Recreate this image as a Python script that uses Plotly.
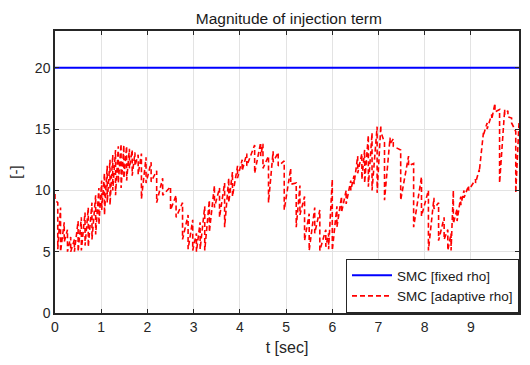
import plotly.graph_objects as go

# ---- data ----
t_fixed = [0.0, 10.04]
rho_fixed = [20.0, 20.0]

# adaptive rho: sawtooth teeth (time, value before drop, value after drop)
tooth_t = [0.00, 0.06, 0.12, 0.20, 0.27, 0.34, 0.42, 0.50, 0.57, 0.65, 0.72, 0.80, 0.88,
           0.95, 1.01, 1.07, 1.13, 1.19, 1.25, 1.31, 1.37, 1.43, 1.49, 1.55, 1.61, 1.67,
           1.73, 1.80, 1.87, 1.97, 2.08, 2.20, 2.33, 2.50, 2.62, 2.76, 2.88, 2.98, 3.06,
           3.14, 3.24, 3.34, 3.45, 3.56, 3.67, 3.76, 3.84, 3.95, 4.05, 4.15, 4.32, 4.45,
           4.50, 4.62, 4.72, 4.83, 4.96, 5.10, 5.22, 5.30, 5.40, 5.50, 5.62, 5.73, 5.86,
           5.92, 6.00, 6.10, 6.20, 6.30, 6.40, 6.47, 6.55, 6.64, 6.70, 6.78, 6.86, 6.97,
           7.05, 7.13, 7.25, 7.32, 7.48, 7.65, 7.76, 7.93, 8.08, 8.20, 8.30, 8.42, 8.50,
           8.57, 8.62, 8.70, 8.78, 8.85, 8.95, 9.10, 9.18, 9.27, 9.35, 9.45, 9.52, 9.62,
           9.73, 9.80, 9.88, 9.97, 10.04]
tooth_top = [9.7, 9.0, 8.6, 7.4, 6.8, 6.2, 6.0, 7.5, 7.8, 8.2, 8.6, 9.0, 9.6,
             10.2, 10.8, 11.4, 12.0, 12.5, 12.9, 13.3, 13.6, 13.8, 13.7, 13.6, 13.4, 13.3,
             13.1, 12.9, 13.0, 12.7, 12.3, 11.6, 11.0, 10.3, 9.6, 9.0, 8.0, 7.6, 6.5,
             7.4, 8.7, 9.2, 10.4, 10.2, 10.6, 11.0, 11.5, 12.0, 12.5, 13.0, 13.7, 13.9,
             13.8, 12.8, 13.2, 13.1, 12.4, 11.8, 10.6, 10.4, 9.5, 8.1, 8.6, 8.4, 6.8,
             6.5, 10.9, 8.7, 9.5, 10.0, 10.8, 11.2, 12.8, 13.0, 13.3, 14.5, 14.7, 15.2,
             15.3, 13.9, 14.3, 14.2, 13.3, 12.8, 12.2, 11.1, 10.0, 9.4, 9.0, 7.8, 6.8,
             6.5, 10.0, 8.5, 9.5, 10.0, 10.4, 10.9, 11.7, 14.7, 15.5, 16.2, 17.1, 16.6,
             16.6, 16.5, 15.9, 14.8, 15.5]
tooth_bottom = [9.2, 5.2, 5.0, 5.8, 5.0, 5.0, 5.0, 5.0, 5.1, 5.5, 5.4, 6.0, 6.4,
                7.2, 8.4, 8.0, 9.0, 8.8, 10.0, 9.6, 10.6, 10.2, 11.0, 10.8, 11.8, 11.2,
                12.0, 11.3, 9.3, 10.6, 10.7, 9.0, 9.6, 8.4, 7.8, 6.0, 5.2, 5.1, 5.0,
                5.2, 5.1, 6.6, 8.6, 7.8, 7.0, 9.0, 9.5, 11.0, 11.6, 12.0, 11.4, 12.8,
                11.8, 9.0, 12.3, 12.0, 8.4, 10.5, 7.0, 8.0, 5.9, 5.1, 6.5, 5.1, 5.4,
                5.2, 5.1, 7.0, 8.2, 8.9, 10.0, 10.5, 11.4, 10.9, 10.6, 10.3, 10.0, 9.8,
                14.8, 9.2, 13.8, 13.6, 9.2, 12.0, 7.0, 7.9, 5.1, 8.5, 5.9, 6.0, 5.1,
                5.1, 7.3, 7.5, 8.8, 9.4, 10.0, 10.6, 11.5, 14.5, 15.0, 15.8, 16.4, 10.6,
                16.2, 16.0, 15.5, 9.8, 15.5]

x_ticks = [0, 1, 2, 3, 4, 5, 6, 7, 8, 9]
y_ticks = [0, 5, 10, 15, 20]

# build the sawtooth polyline from the teeth table
t_adapt, rho_adapt = [], []
for tt, top, bot in zip(tooth_t, tooth_top, tooth_bottom):
    t_adapt += [tt, tt]
    rho_adapt += [top, bot]

FONT = "Liberation Sans, Arial, sans-serif"
AX = "#262626"

fig = go.Figure()
fig.add_trace(go.Scatter(x=t_fixed, y=rho_fixed, mode="lines", name="SMC [fixed rho]",
                         line=dict(color="#0000ff", width=2)))
fig.add_trace(go.Scatter(x=t_adapt, y=rho_adapt, mode="lines", name="SMC [adaptive rho]",
                         line=dict(color="#ff0000", width=1.6, dash="5px,3px")))

axis_common = dict(showgrid=True, gridcolor="#e3e3e3", gridwidth=1,
                   showline=True, linecolor=AX, linewidth=1.5, mirror="ticks",
                   ticks="inside", ticklen=4, tickcolor=AX, tickwidth=1,
                   zeroline=False, tickfont=dict(family=FONT, size=14, color=AX))

fig.update_layout(
    width=530, height=365,
    margin=dict(l=55, r=9, t=31, b=52),
    paper_bgcolor="white", plot_bgcolor="white",
    title=dict(text="Magnitude of injection term", x=0.545, xanchor="center",
               y=0.95, yanchor="middle",
               font=dict(family=FONT, size=15.5, color="#1a1a1a")),
    xaxis=dict(range=[0, 10.04], tickvals=x_ticks, ticktext=[str(v) for v in x_ticks],
               title=dict(text="t [sec]", font=dict(family=FONT, size=16, color=AX), standoff=8),
               **axis_common),
    yaxis=dict(range=[0, 23], tickvals=y_ticks, ticktext=[str(v) for v in y_ticks],
               title=dict(text="[-]", font=dict(family=FONT, size=15, color=AX), standoff=10),
               **axis_common),
    legend=dict(x=1, y=0, xanchor="right", yanchor="bottom",
                bgcolor="white", bordercolor=AX, borderwidth=1,
                font=dict(family=FONT, size=13.5, color="#1a1a1a"),
                tracegroupgap=0, itemwidth=40),
    showlegend=True,
)

fig.write_html("out.html")
